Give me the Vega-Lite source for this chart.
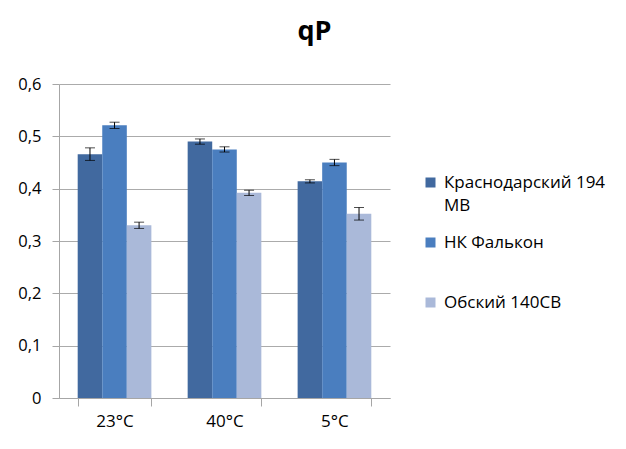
{
  "$schema": "https://vega.github.io/schema/vega-lite/v6.json",
  "width": 331,
  "height": 314,
  "autosize": "none",
  "padding": {"left": 59, "top": 84, "right": 236, "bottom": 51},
  "background": "white",
  "title": {
    "text": "qP",
    "fontSize": 27,
    "fontWeight": "bold",
    "font": "Open Sans",
    "color": "#000000",
    "anchor": "middle",
    "dx": 90,
    "offset": 30
  },
  "data": {
    "values": [
      {"cat": "23°C", "series": "Краснодарский 194 МВ", "value": 0.466, "err": 0.012},
      {"cat": "23°C", "series": "НК Фалькон", "value": 0.521, "err": 0.006},
      {"cat": "23°C", "series": "Обский 140СВ", "value": 0.330, "err": 0.006},
      {"cat": "40°C", "series": "Краснодарский 194 МВ", "value": 0.490, "err": 0.005},
      {"cat": "40°C", "series": "НК Фалькон", "value": 0.475, "err": 0.005},
      {"cat": "40°C", "series": "Обский 140СВ", "value": 0.392, "err": 0.005},
      {"cat": "5°C", "series": "Краснодарский 194 МВ", "value": 0.414, "err": 0.003},
      {"cat": "5°C", "series": "НК Фалькон", "value": 0.450, "err": 0.006},
      {"cat": "5°C", "series": "Обский 140СВ", "value": 0.352, "err": 0.012}
    ]
  },
  "encoding": {
    "x": {
      "field": "cat",
      "type": "nominal",
      "sort": ["23°C", "40°C", "5°C"],
      "scale": {"paddingInner": 0.33, "paddingOuter": 0.17},
      "axis": {
        "title": null,
        "labelAngle": 0,
        "labelFont": "Open Sans",
        "labelFontSize": 17,
        "labelColor": "#000000",
        "labelPadding": 7,
        "tickBand": "extent",
        "tickSize": 8,
        "tickColor": "#A6A6A6",
        "domainColor": "#A6A6A6",
        "grid": false
      }
    },
    "xOffset": {
      "field": "series",
      "type": "nominal",
      "sort": ["Краснодарский 194 МВ", "НК Фалькон", "Обский 140СВ"],
      "scale": {"paddingInner": 0, "paddingOuter": 0}
    }
  },
  "layer": [
    {
      "mark": {"type": "bar"},
      "encoding": {
        "y": {
          "field": "value",
          "type": "quantitative",
          "scale": {"domain": [0, 0.6], "nice": false},
          "axis": {
            "title": null,
            "values": [0, 0.1, 0.2, 0.3, 0.4, 0.5, 0.6],
            "format": ",.1~f",
            "labelExpr": "replace(datum.label, '.', ',')",
            "labelFont": "Open Sans",
            "labelFontSize": 16.5,
            "labelColor": "#000000",
            "labelPadding": 11,
            "tickSize": 7,
            "tickColor": "#A6A6A6",
            "domainColor": "#A6A6A6",
            "gridColor": "#ABABAB",
            "gridWidth": 1
          }
        },
        "color": {
          "field": "series",
          "type": "nominal",
          "sort": ["Краснодарский 194 МВ", "НК Фалькон", "Обский 140СВ"],
          "scale": {"range": ["#41699F", "#4A7EBF", "#AAB9D9"]},
          "legend": {
            "title": null,
            "orient": "none",
            "legendX": 363,
            "legendY": 90,
            "gridAlign": "all",
            "symbolType": "square",
            "symbolSize": 100,
            "symbolStrokeWidth": 0,
            "labelFont": "Open Sans",
            "labelFontSize": 17,
            "labelColor": "#000000",
            "labelLimit": 300,
            "labelOffset": 5,
            "rowPadding": 19,
            "labelExpr": "datum.label == 'Краснодарский 194 МВ' ? ['Краснодарский 194', 'МВ'] : datum.label",
            "encode": {"labels": {"update": {"lineHeight": {"value": 23}}}}
          }
        }
      }
    },
    {
      "mark": {"type": "errorbar", "ticks": {"size": 10, "color": "#000000"}, "rule": {"color": "#000000"}, "color": "#000000"},
      "encoding": {
        "y": {"field": "value", "type": "quantitative"},
        "yError": {"field": "err"}
      }
    }
  ],
  "config": {
    "view": {"stroke": null},
    "axis": {"labelFont": "Open Sans"}
  }
}
